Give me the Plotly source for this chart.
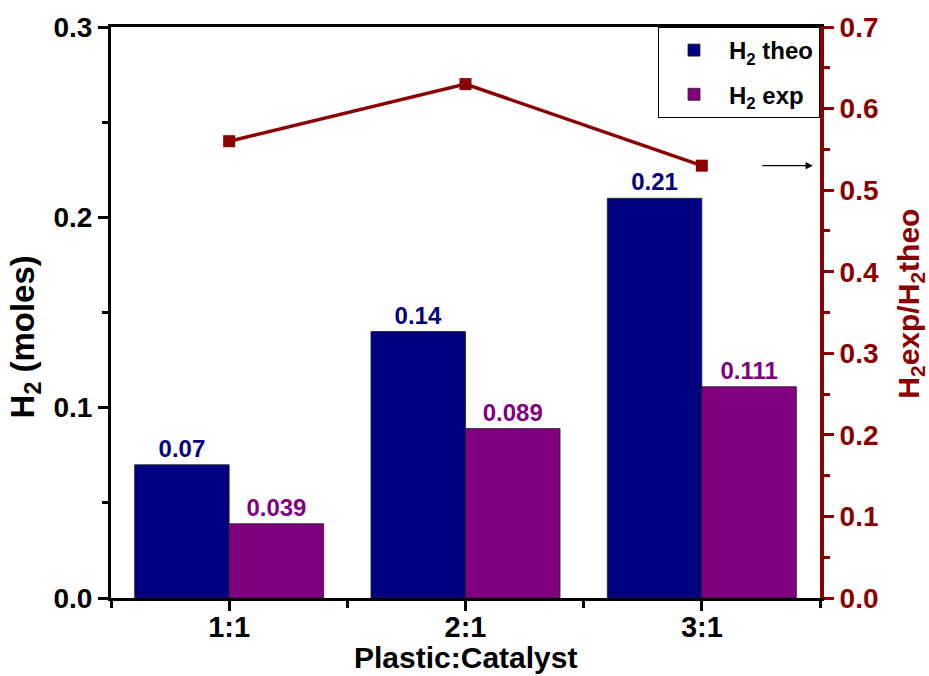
import plotly.graph_objects as go

categories = ["1:1", "2:1", "3:1"]
h2_theo = [0.07, 0.14, 0.21]
h2_exp = [0.039, 0.089, 0.111]
ratio = [0.56, 0.63, 0.53]
theo_labels = ["0.07", "0.14", "0.21"]
exp_labels = ["0.039", "0.089", "0.111"]

xpos = list(range(len(categories)))
NAVY = "#000080"
PURPLE = "#800080"
DARKRED = "#8B0000"
FONT = "Liberation Sans"

fig = go.Figure()
fig.add_trace(go.Bar(
    x=xpos, y=h2_theo, name="H<sub>2</sub> theo", legendgroup="a",
    marker=dict(color=NAVY, line=dict(color="#222", width=0.8)),
    text=theo_labels, textposition="outside", cliponaxis=False,
    textfont=dict(family=FONT, size=24, color=NAVY, weight="bold"),
    offsetgroup="a"))
fig.add_trace(go.Bar(
    x=xpos, y=h2_exp, name="H<sub>2</sub> exp", legendgroup="b",
    marker=dict(color=PURPLE, line=dict(color="#222", width=0.8)),
    text=exp_labels, textposition="outside", cliponaxis=False,
    textfont=dict(family=FONT, size=24, color=PURPLE, weight="bold"),
    offsetgroup="b"))
fig.add_trace(go.Scatter(
    x=xpos, y=ratio, yaxis="y2", mode="lines+markers", showlegend=False,
    line=dict(color=DARKRED, width=3.5),
    marker=dict(symbol="square", size=12, color=DARKRED)))

fig.add_annotation(x=2.47, y=ratio[2], xref="x", yref="y2", ax=2.25, ay=ratio[2],
                   axref="x", ayref="y2", showarrow=True, arrowhead=2, arrowsize=1.2,
                   arrowwidth=1.2, arrowcolor="black", text="")

# axis titles
fig.add_annotation(text="H<sub>2</sub> (moles)", xref="paper", yref="paper",
                   x=-0.12, y=0.458, xanchor="center", yanchor="middle",
                   textangle=-90, showarrow=False,
                   font=dict(family=FONT, size=33, color="black", weight="bold"))
fig.add_annotation(text="H<sub>2</sub>exp/H<sub>2</sub>theo", xref="paper", yref="paper",
                   x=1.128, y=0.515, xanchor="center", yanchor="middle",
                   textangle=-90, showarrow=False,
                   font=dict(family=FONT, size=30, color=DARKRED, weight="bold"))
fig.add_annotation(text="Plastic:Catalyst", xref="paper", yref="paper",
                   x=0.5, y=-0.104, xanchor="center", yanchor="middle",
                   showarrow=False,
                   font=dict(family=FONT, size=30, color="black", weight="bold"))

fig.update_layout(
    width=929, height=676,
    margin=dict(l=111, r=109, t=27, b=78),
    plot_bgcolor="white", paper_bgcolor="white",
    barmode="group", bargap=0.2, bargroupgap=0,
    showlegend=True,
    legend=dict(x=1, xanchor="right", y=1, yanchor="top",
                bordercolor="black", borderwidth=1, bgcolor="white",
                font=dict(family=FONT, size=24, color="black", weight="bold"),
                itemwidth=60, tracegroupgap=10),
    xaxis=dict(
        range=[-0.5, 2.5], tickvals=xpos, ticktext=categories, automargin=False,
        ticks="outside", ticklen=10, tickwidth=2.5, tickcolor="black",
        ticklabelstandoff=-9,
        minor=dict(tickvals=[-0.5, 0.5, 1.5, 2.5], ticks="outside", ticklen=7, tickwidth=2.5, tickcolor="black"),
        showline=True, linecolor="black", linewidth=3, mirror=True,
        showgrid=False, zeroline=False,
        tickfont=dict(family=FONT, size=29, color="black", weight="bold"),
    ),
    yaxis=dict(
        range=[0, 0.3], dtick=0.1, tickformat=".1f", automargin=False,
        ticks="outside", ticklen=10, tickwidth=2.5, tickcolor="black",
        minor=dict(dtick=0.05, ticks="outside", ticklen=6, tickwidth=2.5, tickcolor="black"),
        showline=True, linecolor="black", linewidth=3,
        showgrid=False, zeroline=False,
        tickfont=dict(family=FONT, size=28, color="black", weight="bold"),
    ),
    yaxis2=dict(
        range=[0, 0.7], dtick=0.1, tickformat=".1f", overlaying="y", side="right",
        automargin=False,
        ticks="outside", ticklen=10, tickwidth=3, tickcolor=DARKRED,
        minor=dict(dtick=0.05, ticks="outside", ticklen=6, tickwidth=3, tickcolor=DARKRED),
        showline=True, linecolor=DARKRED, linewidth=4,
        showgrid=False, zeroline=False,
        tickfont=dict(family=FONT, size=28, color=DARKRED, weight="bold"),
    ),
)

fig.write_html("out.html", config={"displayModeBar": False},
               post_script="document.body.style.margin='0';")
